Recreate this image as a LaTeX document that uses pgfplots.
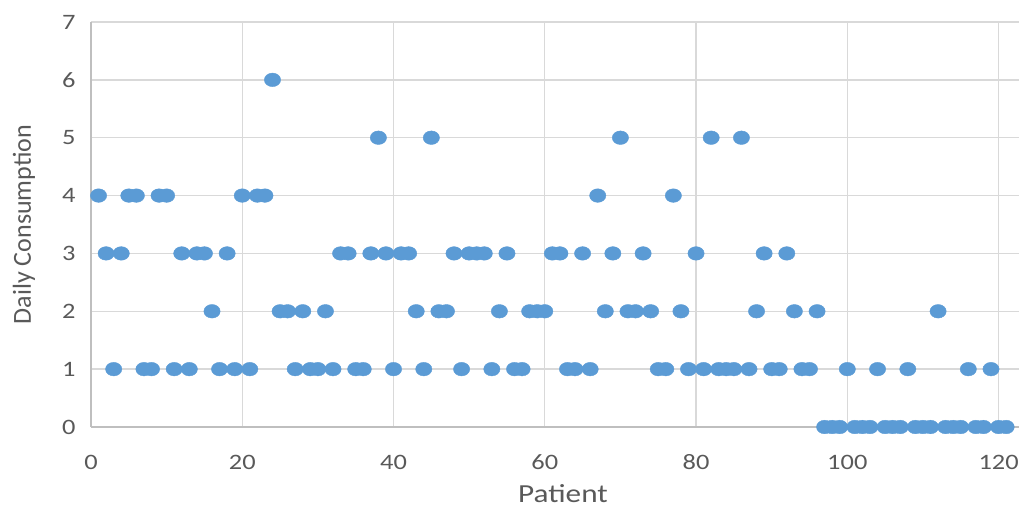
\documentclass[border=0pt]{standalone}
\usepackage{pgfplots}
\pgfplotsset{compat=1.18}
\usepackage{fontspec}
\setmainfont{Carlito}[FakeStretch=1.2]
\newfontfamily\ylabfont{Carlito}
\definecolor{ptc}{HTML}{5B9BD5}
\definecolor{txt}{HTML}{595959}
\definecolor{grd}{HTML}{D9D9D9}
\definecolor{axl}{HTML}{BFBFBF}
\begin{document}
\begin{tikzpicture}
\useasboundingbox (-45.5pt,-40.5pt) rectangle (464pt,213.5pt);
\begin{axis}[
  at={(0,0)}, anchor=south west,
  scale only axis, width=464pt, height=202.5pt,
  xmin=0, xmax=122.7, ymin=0, ymax=7,
  axis lines*=left,
  axis line style={axl, line width=1pt},
  grid=major, grid style={grd, line width=0.7pt},
  xtick={0,20,...,120}, ytick={0,1,...,7},
  major tick length=0pt,
  tick label style={txt, font=\fontsize{11}{13}\selectfont},
  /pgf/number format/assume math mode=true,
  xticklabel style={anchor=center, yshift=-17.5pt},
  yticklabel style={anchor=east, inner sep=0pt, xshift=-7.5pt},
  clip=false,
  xlabel={Patient}, ylabel={Daily Consumption},
  every axis x label/.style={at={(axis description cs:0.5086,-0.1654)}, anchor=center, text=txt, font=\fontsize{13}{15}\selectfont},
  every axis y label/.style={at={(axis description cs:-0.0722,0.5)}, anchor=center, rotate=90, text=txt, font=\ylabfont\fontsize{13}{15}\selectfont},
]
\addplot[only marks, color=ptc, mark=*, mark size=3.4pt, mark options={draw=ptc, fill=ptc, line width=0.2pt, xscale=1.2}] table {
x y
1 4
2 3
3 1
4 3
5 4
6 4
7 1
8 1
9 4
10 4
11 1
12 3
13 1
14 3
15 3
16 2
17 1
18 3
19 1
20 4
21 1
22 4
23 4
24 6
25 2
26 2
27 1
28 2
29 1
30 1
31 2
32 1
33 3
34 3
35 1
36 1
37 3
38 5
39 3
40 1
41 3
42 3
43 2
44 1
45 5
46 2
47 2
48 3
49 1
50 3
51 3
52 3
53 1
54 2
55 3
56 1
57 1
58 2
59 2
60 2
61 3
62 3
63 1
64 1
65 3
66 1
67 4
68 2
69 3
70 5
71 2
72 2
73 3
74 2
75 1
76 1
77 4
78 2
79 1
80 3
81 1
82 5
83 1
84 1
85 1
86 5
87 1
88 2
89 3
90 1
91 1
92 3
93 2
94 1
95 1
96 2
97 0
98 0
99 0
100 1
101 0
102 0
103 0
104 1
105 0
106 0
107 0
108 1
109 0
110 0
111 0
112 2
113 0
114 0
115 0
116 1
117 0
118 0
119 1
120 0
121 0
};
\end{axis}
\end{tikzpicture}
\end{document}
